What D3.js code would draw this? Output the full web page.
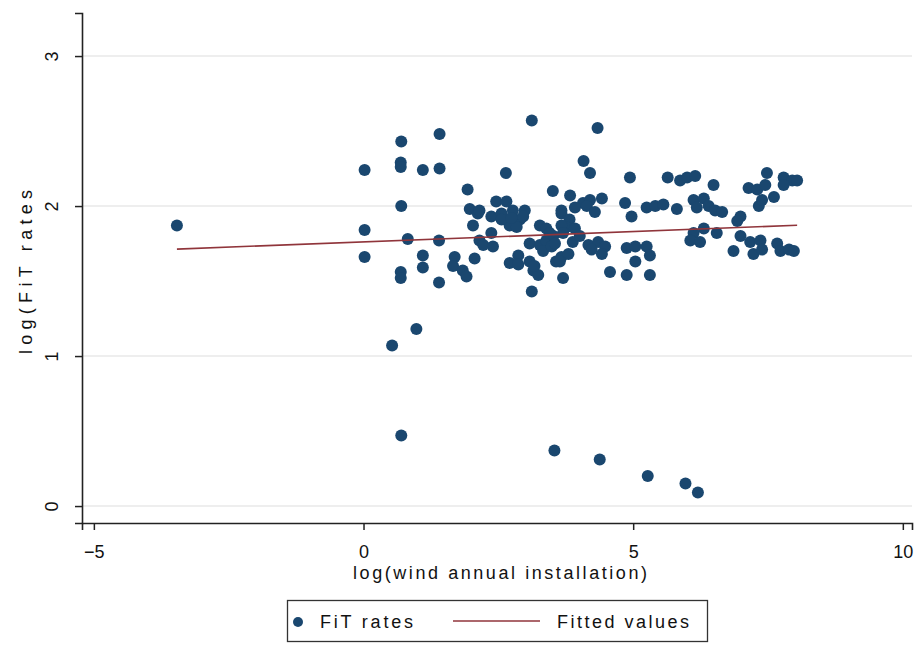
<!DOCTYPE html>
<html>
<head>
<meta charset="utf-8">
<script src="https://cdn.jsdelivr.net/npm/d3@7"></script>
<style>
  body { margin: 0; background: #fff; }
  svg text { font-family: "Liberation Sans", Arial, sans-serif; fill: #111; }
</style>
</head>
<body>
<svg id="chart" width="916" height="650"></svg>
<script>
// log(wind annual installation) vs log(FiT rates)
const logInstall = [
  -3.46,
  0.02, 0.02, 0.02,
  0.70, 0.69, 0.69, 0.70, 0.82, 0.69, 0.69,
  0.53, 0.98, 0.70,
  1.10, 1.10, 1.10,
  1.41, 1.41, 1.40, 1.40,
  3.54, 4.38, 5.27, 5.97, 6.20,
  3.12, 2.64, 1.93, 3.51, 2.46, 2.65, 1.97, 2.12, 2.37, 2.56, 2.77, 2.99, 2.90, 2.71,
  2.84, 2.03, 2.56, 3.27, 3.39, 2.37, 2.15, 2.22, 2.40, 3.08, 3.27, 3.39, 3.52, 2.06,
  1.69, 1.66, 1.84, 1.91, 2.71, 2.87, 2.87, 3.08, 3.15, 3.24, 3.33, 3.49, 3.12,
  2.74, 3.67, 3.82, 3.76, 4.07, 3.88, 3.17, 3.57, 3.67, 2.15, 2.96, 3.45,
  4.34, 4.08, 4.20, 4.94, 5.64, 5.87, 3.83, 4.20, 4.42, 4.85, 3.67, 3.92, 4.14, 4.29,
  4.97, 5.25, 5.41, 5.56, 5.81, 3.67, 3.92, 3.70, 4.01, 4.17, 4.35, 4.48, 4.42, 4.23,
  3.55, 3.80, 3.64, 3.70, 4.88, 5.04, 5.25, 5.31, 5.04, 4.57, 4.88, 5.31,
  6.00, 6.15, 6.49, 6.12, 6.31, 6.18, 6.40, 6.52, 6.65, 6.99, 6.93, 7.14, 7.30, 7.48,
  7.45, 7.61, 7.33, 7.39, 7.79, 7.95, 8.04, 7.79, 6.12, 6.31, 6.06, 6.24, 6.55, 6.99,
  6.86, 7.17, 7.36, 7.23, 7.39, 7.67, 7.73, 7.89, 7.98
];
const logFit = [
  1.87,
  2.24, 1.84, 1.66,
  2.43, 2.29, 2.26, 2.00, 1.78, 1.56, 1.52,
  1.07, 1.18, 0.47,
  2.24, 1.67, 1.59,
  2.48, 2.25, 1.77, 1.49,
  0.37, 0.31, 0.20, 0.15, 0.09,
  2.57, 2.22, 2.11, 2.10, 2.03, 2.03, 1.98, 1.95, 1.93, 1.95, 1.97, 1.97, 1.91, 1.87,
  1.86, 1.87, 1.91, 1.87, 1.85, 1.82, 1.77, 1.74, 1.73, 1.75, 1.74, 1.77, 1.80, 1.65,
  1.66, 1.60, 1.57, 1.53, 1.62, 1.67, 1.61, 1.63, 1.57, 1.54, 1.70, 1.73, 1.43,
  1.92, 1.95, 1.91, 1.86, 2.02, 1.76, 1.60, 1.63, 1.66, 1.97, 1.93, 1.82,
  2.52, 2.30, 2.22, 2.19, 2.19, 2.17, 2.07, 2.04, 2.05, 2.02, 1.97, 1.99, 2.00, 1.96,
  1.93, 1.99, 2.00, 2.01, 1.98, 1.87, 1.85, 1.82, 1.80, 1.74, 1.76, 1.73, 1.68, 1.71,
  1.75, 1.68, 1.63, 1.52, 1.72, 1.73, 1.73, 1.67, 1.63, 1.56, 1.54, 1.54,
  2.19, 2.20, 2.14, 2.04, 2.05, 1.99, 2.00, 1.97, 1.96, 1.93, 1.90, 2.12, 2.11, 2.22,
  2.14, 2.06, 2.00, 2.04, 2.19, 2.17, 2.17, 2.14, 1.82, 1.85, 1.77, 1.76, 1.82, 1.80,
  1.70, 1.76, 1.77, 1.68, 1.71, 1.75, 1.70, 1.71, 1.70
];

// fitted regression line endpoints
const fitLineX = [-3.46, 8.04];
const fitLineY = [1.713, 1.872];

const xTicks = [-5, 0, 5, 10];
const yTicks = [0, 1, 2, 3];
const legendLabels = ["FiT rates", "Fitted values"];

const navy = "#1a476f";
const maroon = "#90353b";

const svg = d3.select("#chart");
const plotLeft = 82, plotRight = 912, plotTop = 13, plotBottom = 523;

const x = d3.scaleLinear().domain([-5.22, 10.17]).range([plotLeft, plotRight]);
const y = d3.scaleLinear().domain([-0.113, 3.287]).range([plotBottom, plotTop]);

// grid lines
svg.append("g").selectAll("line")
  .data(yTicks)
  .join("line")
  .attr("x1", plotLeft).attr("x2", plotRight)
  .attr("y1", d => y(d)).attr("y2", d => y(d))
  .attr("stroke", "#e8e8e8")
  .attr("stroke-width", 1.5);

// axes
const xAxis = svg.append("g")
  .attr("transform", `translate(0,${plotBottom})`)
  .call(d3.axisBottom(x).tickValues(xTicks).tickSize(7).tickPadding(15).tickFormat(d3.format("d")));
xAxis.select(".domain").attr("stroke", "#222").attr("stroke-width", 1.6);
xAxis.selectAll(".tick line").attr("stroke", "#222").attr("stroke-width", 1.5);
xAxis.selectAll(".tick text")
  .attr("font-size", 18)
  .attr("font-family", "Liberation Sans, Arial, sans-serif")
  .attr("fill", "#111");

const yAxis = svg.append("g")
  .attr("transform", `translate(${plotLeft},0)`)
  .call(d3.axisLeft(y).tickValues(yTicks).tickSize(7).tickFormat(d3.format("d")));
yAxis.select(".domain").attr("stroke", "#222").attr("stroke-width", 1.6);
yAxis.selectAll(".tick line").attr("stroke", "#222").attr("stroke-width", 1.5);
yAxis.selectAll(".tick text")
  .attr("font-size", 18)
  .attr("font-family", "Liberation Sans, Arial, sans-serif")
  .attr("fill", "#111")
  .attr("text-anchor", "middle")
  .attr("x", null)
  .attr("dy", "0em")
  .attr("transform", "translate(-24,0) rotate(-90)");

// axis titles
svg.append("text")
  .attr("x", 500).attr("y", 579)
  .attr("text-anchor", "middle")
  .attr("font-size", 18)
  .attr("textLength", 294)
  .attr("lengthAdjust", "spacing")
  .text("log(wind annual installation)");

svg.append("text")
  .attr("transform", "translate(32,272) rotate(-90)")
  .attr("text-anchor", "middle")
  .attr("font-size", 18)
  .attr("textLength", 164)
  .attr("lengthAdjust", "spacing")
  .text("log(FiT rates");

// scatter points
const pts = logInstall.map((v, i) => ({ x: v, y: logFit[i] }));
svg.append("g").selectAll("circle")
  .data(pts)
  .join("circle")
  .attr("cx", d => x(d.x))
  .attr("cy", d => y(d.y))
  .attr("r", 6)
  .attr("fill", navy);

// fitted line
svg.append("path")
  .datum(fitLineX.map((v, i) => [v, fitLineY[i]]))
  .attr("d", d3.line().x(d => x(d[0])).y(d => y(d[1])))
  .attr("fill", "none")
  .attr("stroke", maroon)
  .attr("stroke-width", 1.6);

// legend
const lg = svg.append("g");
lg.append("rect")
  .attr("x", 287.5).attr("y", 600.5)
  .attr("width", 420).attr("height", 41)
  .attr("fill", "#fff")
  .attr("stroke", "#333").attr("stroke-width", 1.3);
lg.append("circle")
  .attr("cx", 298).attr("cy", 622).attr("r", 5)
  .attr("fill", navy);
lg.append("text")
  .attr("x", 320).attr("y", 628)
  .attr("font-size", 18)
  .attr("textLength", 93)
  .attr("lengthAdjust", "spacing")
  .text(legendLabels[0]);
lg.append("line")
  .attr("x1", 453).attr("x2", 540)
  .attr("y1", 621).attr("y2", 621)
  .attr("stroke", maroon).attr("stroke-width", 1.6);
lg.append("text")
  .attr("x", 557).attr("y", 628)
  .attr("font-size", 18)
  .attr("textLength", 132)
  .attr("lengthAdjust", "spacing")
  .text(legendLabels[1]);
</script>
</body>
</html>
